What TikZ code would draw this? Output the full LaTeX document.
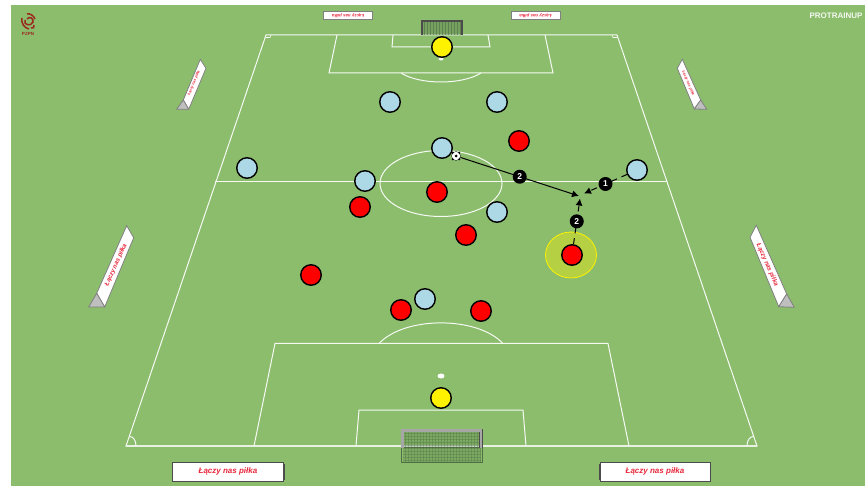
\documentclass[tikz,border=0pt]{standalone}
\usepackage{fontspec}
\setmainfont{Liberation Sans}
\usetikzlibrary{arrows.meta}
\definecolor{grass}{HTML}{8BBD6D}
\definecolor{skyblue}{HTML}{ADD8E6}
\definecolor{adred}{HTML}{E8283C}
\definecolor{crest}{HTML}{9A2A1E}
\definecolor{zone}{HTML}{B6D043}
\definecolor{netline}{HTML}{4F6E45}
\begin{document}
\begin{tikzpicture}[x=1pt,y=-1pt,
    line/.style={white!92!grass,line width=1pt,line join=miter},
    player/.style={circle,draw=black,line width=1.4pt,minimum size=20.5pt,inner sep=0pt},
    blueplayer/.style={player,fill=skyblue},
    redplayer/.style={player,fill=red},
    keeper/.style={player,fill=yellow},
    numtag/.style={circle,fill=black,text=white,minimum size=14pt,inner sep=0pt,font=\fontsize{8.5}{9}\selectfont\bfseries},
    pass/.style={draw=black,line width=1pt,-{Latex[length=7pt,width=7pt]}},
    run/.style={pass,dash pattern=on 6pt off 5pt},
    board/.style={draw=gray,line width=0.8pt,fill=white},
    adtext/.style={text=adred,inner sep=0pt,font=\bfseries\itshape}]
    \useasboundingbox (0,0) rectangle (865,486);

    % Grass
    \fill[grass] (11,5) rectangle (865,486);

    % Pitch lines
    \draw[line] (266,35) -- (617,35) -- (757,446) -- (126,446) -- cycle;
    \draw[line] (215,181.5) -- (667,181.5);
    \draw[line] (441,183.5) ellipse [x radius=61,y radius=33];
    \draw[line] (337,35) -- (329,73) -- (553,73) -- (545,35);
    \draw[line] (393,35) -- (392,47) -- (490,47) -- (488,35);
    \draw[line] (401,73) .. controls (420,85) and (462,85) .. (481,73);
    \draw[line] (254,446) -- (275,343.5) -- (608,343.5) -- (629,446);
    \draw[line] (356,446) -- (359,410) -- (523,410) -- (526,446);
    \draw[line] (379,343.5) .. controls (405,316) and (477,316) .. (503,343.5);
    \draw[white!80!grass,line width=1.6pt] (126,446) -- (757,446);
    \fill[white] (441,59) ellipse [x radius=2.5,y radius=1.5];
    \fill[white] (441,376) ellipse [x radius=3.5,y radius=2.5];

    % Corners
    \draw[line] (136,446) .. controls (136,440) and (133,436.5) .. (129.5,436.5);
    \draw[line] (747,446) .. controls (747,440) and (750,436.5) .. (753.5,436.5);
    \draw[line,line width=0.6pt] (271,35) -- (270,37.5) -- (265.5,37.5);
    \draw[line,line width=0.6pt] (612,35) -- (613,37.5) -- (617.5,37.5);

    % Top goal
    \fill[netline,opacity=0.35] (423,22) rectangle (461,35);
    \foreach \x in {424,427,...,460} \draw[netline,opacity=0.6,line width=0.2pt] (\x,22) -- (\x,35);
    \draw[gray!60!black,line width=1.8pt] (422,35) -- (422,21) -- (462,21) -- (462,35);

    % Bottom goal
    \fill[netline,opacity=0.25] (403,431) rectangle (481,462);
    \foreach \x in {405,408,...,480} \draw[netline,opacity=0.35,line width=0.2pt] (\x,431) -- (\x,462);
    \foreach \y in {433,436,...,461} \draw[netline,opacity=0.35,line width=0.2pt] (403,\y) -- (481,\y);
    \draw[netline,line width=0.7pt] (401.5,447) -- (401.5,462) -- (482,462) -- (482,447);
    \draw[netline,line width=0.7pt] (401.5,447) -- (482,447);
    \draw[black!70,line width=3.6pt] (402.5,448) -- (402.5,430.5) -- (481,430.5) -- (481,448);
    \draw[gray!70,line width=2.2pt] (402.5,448) -- (402.5,430.5) -- (481,430.5) -- (481,448);

    % Side boards
    \draw[board] (126.7,225.7) -- (133.7,237.7) -- (104.7,307) -- (96.7,293.3) -- cycle;
    \draw[board,fill=gray!50] (96.7,293.3) -- (88.7,307) -- (104.7,307) -- cycle;
    \node[adtext,rotate=66,font=\fontsize{6.2}{7}\selectfont\bfseries\itshape] (adleft) at (116,265) {Łączy nas piłka};
    \draw[board] (200.3,59.3) -- (206,68.3) -- (188.7,109.3) -- (183.3,100) -- cycle;
    \draw[board,fill=gray!50] (183.3,100) -- (176.7,109.3) -- (188.7,109.3) -- cycle;
    \node[adtext,rotate=67,font=\fontsize{3.6}{4}\selectfont\bfseries\itshape] (adleftup) at (194,83) {Łączy nas piłka};
    \draw[board] (682.3,59.3) -- (677.3,68.3) -- (694.3,109) -- (700.7,100) -- cycle;
    \draw[board,fill=gray!50] (700.7,100) -- (706.7,109.3) -- (694.3,109) -- cycle;
    \node[adtext,rotate=-67,font=\fontsize{3.6}{4}\selectfont\bfseries\itshape] (adrightup) at (688.3,83.3) {Łączy nas piłka};
    \draw[board] (756.3,225.3) -- (750,237.3) -- (778.7,306.7) -- (786.7,294) -- cycle;
    \draw[board,fill=gray!50] (786.7,294) -- (794.3,307.3) -- (778.7,306.7) -- cycle;
    \node[adtext,rotate=-66,font=\fontsize{6.2}{7}\selectfont\bfseries\itshape] (adright) at (767.3,265) {Łączy nas piłka};

    % Top and bottom boards
    \draw[board] (323.7,11.7) rectangle (372.3,19);
    \node[adtext,rotate=180,font=\fontsize{4.4}{5}\selectfont\bfseries\itshape] (adtopa) at (348,15.3) {Łączy nas piłka};
    \draw[board] (511.3,11.7) rectangle (560,19);
    \node[adtext,rotate=180,font=\fontsize{4.4}{5}\selectfont\bfseries\itshape] (adtopb) at (535.5,15.3) {Łączy nas piłka};
    \draw[board,draw=gray!60!black] (172.7,462.7) rectangle (283.3,481);
    \node[adtext,font=\fontsize{8}{9}\selectfont\bfseries\itshape] (adbota) at (228,471.8) {Łączy nas piłka};
    \draw[black!70,line width=1pt] (284,464) -- (284,480);
    \draw[board,draw=gray!60!black] (600,462.7) rectangle (710.7,481.3);
    \node[adtext,font=\fontsize{8}{9}\selectfont\bfseries\itshape] (adbotb) at (655,471.8) {Łączy nas piłka};
    \draw[black!70,line width=1pt] (599.5,464) -- (599.5,480);

    % Crest and brand
    \draw[crest,line width=1.5pt] (25,20) .. controls (23,25) and (31,27) .. (33,22) .. controls (34,18) and (29,16) .. (27,19);
    \draw[crest,line width=1.5pt] (27,14) .. controls (30,13) and (34,16) .. (35,19);
    \draw[crest,line width=1.5pt] (22,18) .. controls (21,23) and (24,28) .. (29,29);
    \draw[crest,line width=1.5pt] (34,25) .. controls (35,27) and (33,29) .. (31,28);
    \node[text=crest,inner sep=0pt,font=\fontsize{4.5}{5}\selectfont\bfseries] (crestname) at (28,33.7) {PZPN};
    \node[text=white!90!grass,inner sep=0pt,font=\fontsize{8}{9}\selectfont\bfseries] (brand) at (836,16) {PROTRAINUP};

    % Highlight
    \draw[yellow,fill=zone,line width=0.8pt] (571,255) ellipse [x radius=25.5,y radius=23];

    % Blue team
    \node[blueplayer] (blueA) at (390,102) {};
    \node[blueplayer] (blueB) at (497,102) {};
    \node[blueplayer] (blueC) at (442,148) {};
    \node[blueplayer] (blueD) at (247,168) {};
    \node[blueplayer] (blueE) at (365,181) {};
    \node[blueplayer] (blueF) at (497,212) {};
    \node[blueplayer] (blueG) at (637,170) {};
    \node[blueplayer] (blueH) at (425,299) {};

    % Red team
    \node[redplayer] (redA) at (519,141) {};
    \node[redplayer] (redB) at (437,192) {};
    \node[redplayer] (redC) at (360,207) {};
    \node[redplayer] (redD) at (466,235) {};
    \node[redplayer] (redE) at (572,255) {};
    \node[redplayer] (redF) at (311,275) {};
    \node[redplayer] (redG) at (401,310) {};
    \node[redplayer] (redH) at (481,311) {};

    % Keepers
    \node[keeper] (keeperA) at (442,47) {};
    \node[keeper] (keeperB) at (441,398) {};

    % Ball
    \node[circle,fill=white,draw=black,line width=0.3pt,minimum size=9pt,inner sep=0pt] (ball) at (456,156) {};
    \fill[black] (ball.center) circle (1.5);
    \fill[black] (ball.north west) circle (1.1);
    \fill[black] (ball.north east) circle (1.1);
    \fill[black] (ball.south west) circle (1.1);
    \fill[black] (ball.south east) circle (1.1);

    % Passes
    \coordinate (meetA) at (579,196);
    \coordinate (meetB) at (584,193.5);
    \coordinate (meetC) at (580,198.5);
    \draw[pass] (ball) -- node[numtag] (tagA) {2} (meetA);
    \draw[run] (blueG) -- node[numtag] (tagB) {1} (meetB);
    \draw[run] (redE) -- node[numtag] (tagC) {2} (meetC);
\end{tikzpicture}
\end{document}
